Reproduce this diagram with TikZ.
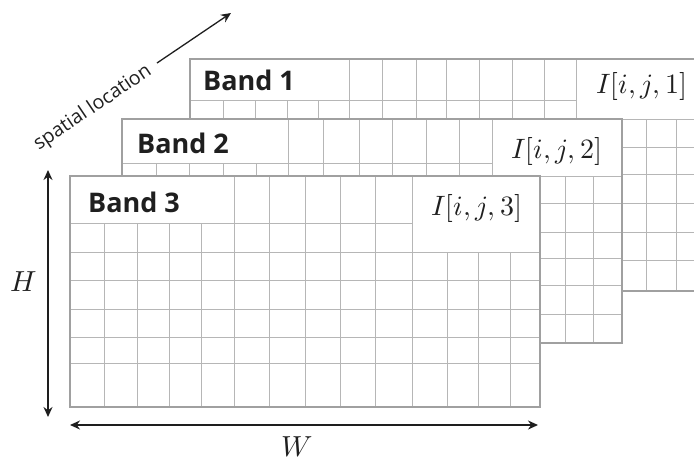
\documentclass[tikz,border=0pt]{standalone}
\usepackage{fontspec}
\usepackage{unicode-math}
\setmathfont{Latin Modern Math}
\usetikzlibrary{arrows.meta}
\newfontfamily\osans{Open Sans}
\definecolor{gridc}{RGB}{182,182,182}
\definecolor{edgec}{RGB}{160,160,160}
\definecolor{arrc}{RGB}{30,30,30}
\begin{document}
\begin{tikzpicture}[x=1pt,y=-1pt,
  gridl/.style={draw=gridc, line width=0.9pt},
  bandfill/.style={fill=white},
  bandedge/.style={draw=edgec, line width=1.1pt},
  bandlbl/.style={font=\osans\bfseries\fontsize{27}{30}\selectfont, text=black!88, inner sep=0pt, anchor=base west},
  mathlbl/.style={font=\fontsize{28}{32}\selectfont, text=black!88, inner sep=0pt, anchor=base west},
  axislbl/.style={font=\fontsize{29}{32}\selectfont, text=black!88, inner sep=0pt},
  tipA/.tip={Stealth[length=10pt,width=9pt]},
  dimarrow/.style={draw=arrc, line width=1.5pt, tipA-tipA},
  onearrow/.style={draw=arrc, line width=1.3pt, -tipA},
]
\useasboundingbox (0,0) rectangle (694,461);
\begin{scope}
\clip (0,0) rectangle (694,461);
% ---------- Band 1 ----------
\fill[bandfill] (190,59) rectangle (740,291);
\foreach \y in {119,147,174,203,232,260} \draw[gridl] (190,\y) -- (740,\y);
\draw[gridl] (190,100.7) -- (576,100.7);
\foreach \x in {349,382,416,446,479,512,544,576} \draw[gridl] (\x,59) -- (\x,291);
\foreach \x in {223,255,287,318} \draw[gridl] (\x,100.7) -- (\x,291);
\foreach \x in {610,646,676,706} \draw[gridl] (\x,119) -- (\x,291);
\draw[bandedge] (190,59) rectangle (740,291);
% ---------- Band 2 ----------
\fill[bandfill] (122,119) rectangle (622,343);
\draw[gridl] (122,163) -- (492,163);
\foreach \y in {176,203,232,258,285,314} \draw[gridl] (122,\y) -- (622,\y);
\foreach \x in {288,323,359,392,426,459,492} \draw[gridl] (\x,119) -- (\x,343);
\foreach \x in {156,189,223,256} \draw[gridl] (\x,163) -- (\x,343);
\foreach \x in {528,565,593} \draw[gridl] (\x,176) -- (\x,343);
\draw[bandedge] (122,119) rectangle (622,343);
% ---------- Band 3 ----------
\fill[bandfill] (70,176) rectangle (540,407);
\draw[gridl] (70,223) -- (412,223);
\foreach \y in {252,280,309,337,363} \draw[gridl] (70,\y) -- (540,\y);
\foreach \x in {234,269,305,340,375,412} \draw[gridl] (\x,176) -- (\x,407);
\foreach \x in {104,137,169,201} \draw[gridl] (\x,223) -- (\x,407);
\foreach \x in {447,478,510} \draw[gridl] (\x,252) -- (\x,407);
\draw[bandedge] (70,176) rectangle (540,407);
\end{scope}
% ---------- labels ----------
\node[bandlbl] (b1) at (203,90.7) {Band 1};
\node[bandlbl] (b2) at (137,153.3) {Band 2};
\node[bandlbl] (b3) at (88,212.7) {Band 3};
\node[mathlbl] (i1) at (596,93) {$I[i,j,1]$};
\node[mathlbl] (i2) at (511,158) {$I[i,j,2]$};
\node[mathlbl] (i3) at (431,215) {$I[i,j,3]$};
% ---------- axes ----------
\coordinate (htop) at (48,170);
\coordinate (hbot) at (48,417);
\draw[dimarrow] (htop) -- (hbot);
\node[axislbl] (hl) at (24,282) {$H$};
\coordinate (wl) at (70,425);
\coordinate (wr) at (538,425);
\draw[dimarrow] (wl) -- (wr);
\node[axislbl] (wlab) at (297,447) {$W$};
\node[font=\osans\fontsize{19.5}{22}\selectfont, text=black!88, rotate=34, inner sep=0pt] (sl) at (93,108) {spatial location};
\coordinate (slA) at (157,63);
\coordinate (slB) at (231,13);
\draw[onearrow] (slA) -- (slB);
\end{tikzpicture}
\end{document}
